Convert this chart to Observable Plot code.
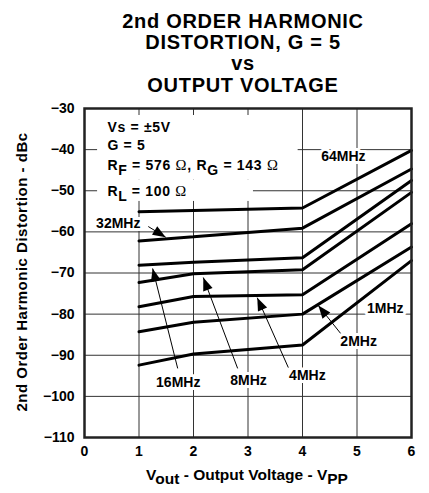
<!DOCTYPE html>
<html><head><meta charset="utf-8">
<script src="https://cdn.jsdelivr.net/npm/d3@7"></script>
<script src="https://cdn.jsdelivr.net/npm/@observablehq/plot@0.6"></script>
<style>
body{margin:0;background:#fff;}
#chart svg{font-family:"Liberation Sans",Arial,sans-serif;}
.title text{letter-spacing:0.7px;}
.conds text{letter-spacing:0.7px;}
.ylab text{letter-spacing:0.5px;}
</style>
</head><body><div id="chart"></div>
<script>
// ---- data ----
const voltages = [1, 2, 4, 6];
const seriesNames = ["64MHz", "32MHz", "16MHz", "8MHz", "4MHz", "2MHz", "1MHz"];
const hd64 = [-55.1, -54.8, -54.2, -40.2];
const hd32 = [-62.2, -61.2, -59.1, -44.7];
const hd16 = [-68.1, -67.4, -66.3, -47.5];
const hd8  = [-72.3, -70.2, -69.2, -50.4];
const hd4  = [-78.2, -75.7, -75.3, -58.0];
const hd2  = [-84.3, -82.0, -80.0, -63.7];
const hd1  = [-92.4, -89.7, -87.5, -67.0];
const xTicks = [0, 1, 2, 3, 4, 5, 6];
const yTicks = [-30, -40, -50, -60, -70, -80, -90, -100, -110];
const titleLines = ["2nd ORDER HARMONIC", "DISTORTION, G = 5", "vs", "OUTPUT VOLTAGE"];
const conditionLines = ["Vs = ±5V", "G = 5", "R_{F} = 576 Ω, R_{G} = 143 Ω", "R_{L} = 100 Ω"];
const xLabel = "V_{out} - Output Voltage - V_{PP}";
const yLabel = "2nd Order Harmonic Distortion - dBc";

// ---- build table ----
const seriesValues = [hd64, hd32, hd16, hd8, hd4, hd2, hd1];
const rows = [];
seriesNames.forEach((s, i) => voltages.forEach((v, j) => rows.push({series: s, v, db: seriesValues[i][j]})));

// ---- annotation placement (data coordinates) ----
const labelPos = [
  {t: "64MHz", x: 4.75, y: -41.7},
  {t: "32MHz", x: 0.62, y: -58.0},
  {t: "16MHz", x: 1.72, y: -96.6},
  {t: "8MHz",  x: 3.01, y: -96.1},
  {t: "4MHz",  x: 4.09, y: -94.9},
  {t: "2MHz",  x: 5.03, y: -86.7},
  {t: "1MHz",  x: 5.52, y: -78.6}
];
const arrowPos = [
  {x1: 1.17, y1: -58.7, x2: 1.49, y2: -61.3},
  {x1: 1.71, y1: -93.2, x2: 1.25, y2: -68.9},
  {x1: 2.81, y1: -93.2, x2: 2.18, y2: -71.1},
  {x1: 3.74, y1: -93.0, x2: 3.17, y2: -76.0},
  {x1: 4.70, y1: -84.7, x2: 4.29, y2: -77.9}
];
const condRowsY = [-34.6, -39.0, -43.9, -50.2];
const conds = conditionLines.map((t, i) => ({t, x: 0.42, y: condRowsY[i]}));

const W = 429, H = 493, mL = 84, mR = 18, mT = 108, mB = 56;
const sx = d3.scaleLinear([0, 6], [mL, W - mR]);
const sy = d3.scaleLinear([-110, -30], [H - mB, mT]);
const heads = arrowPos.map(a => {
  const dx = sx(a.x2) - sx(a.x1), dy = sy(a.y2) - sy(a.y1);
  return {x: a.x2, y: a.y2, rot: Math.atan2(dx, -dy) * 180 / Math.PI};
});

const plot = Plot.plot({
  width: W, height: H,
  marginLeft: mL, marginRight: mR, marginTop: mT, marginBottom: mB,
  x: {domain: [0, 6], ticks: xTicks},
  y: {domain: [-110, -30], ticks: yTicks},
  style: {fontFamily: "'Liberation Sans', Arial, sans-serif", background: "white", overflow: "visible"},
  marks: [
    Plot.gridX(xTicks.filter(d => d > 0 && d < 6), {stroke: "#333", strokeOpacity: 1, strokeWidth: 1}),
    Plot.gridY(yTicks.filter(d => d > -110 && d < -30), {stroke: "#333", strokeOpacity: 1, strokeWidth: 1}),
    Plot.rect([{x1: 0.24, x2: 3.92, y1: -31.7, y2: -47.4}, {x1: 0.24, x2: 3.1, y1: -47.4, y2: -52.6}],
      {x1: "x1", x2: "x2", y1: "y1", y2: "y2", fill: "white"}),
    Plot.line(rows, {x: "v", y: "db", z: "series", stroke: "black", strokeWidth: 3, strokeLinejoin: "miter"}),
    Plot.link(arrowPos, {x1: "x1", y1: "y1", x2: "x2", y2: "y2", stroke: "black", strokeWidth: 1}),
    Plot.vector(heads, {x: "x", y: "y", rotate: "rot", length: 13, r: 5, shape: "spike", anchor: "end", fill: "black", stroke: "none"}),
    Plot.text(labelPos, {x: "x", y: "y", text: "t", fontSize: 14, fontWeight: "bold", fill: "black", stroke: "white", strokeWidth: 6}),
    Plot.text(conds, {x: "x", y: "y", text: "t", textAnchor: "start", fontSize: 14, fontWeight: "bold", fill: "black", className: "subtext conds"}),
    Plot.frame({stroke: "#222", strokeWidth: 2.5}),
    Plot.axisX({ticks: xTicks, tickFormat: d3.format("d"), tickSize: 0, tickPadding: 9, fontSize: 14, fontWeight: "bold", label: null}),
    Plot.axisY({ticks: yTicks, tickFormat: d3.format("d"), tickSize: 0, tickPadding: 10, fontSize: 14, fontWeight: "bold", label: null}),
    Plot.text([titleLines.join("\n")], {frameAnchor: "top", dy: -96, dx: -5, lineAnchor: "top", lineHeight: 1.07, fontSize: 20, fontWeight: "bold", text: d => d, className: "title"}),
    Plot.text([xLabel], {frameAnchor: "bottom", dy: 42, dx: -1, fontSize: 15.5, fontWeight: "bold", text: d => d, className: "subtext"}),
    Plot.text([yLabel], {frameAnchor: "left", textAnchor: "middle", dx: -62, dy: -1, rotate: -90, fontSize: 15, fontWeight: "bold", text: d => d, className: "ylab"})
  ]
});

// subscripts and omega rendering
d3.select(plot).selectAll(".subtext text").each(function() {
  const s = this.textContent;
  const el = d3.select(this);
  el.text(null);
  const parts = s.split(/(_\{[^}]*\}|Ω)/).filter(p => p !== "");
  let shifted = false;
  for (const p of parts) {
    if (p.startsWith("_{")) {
      el.append("tspan").attr("dy", "0.32em").text(p.slice(2, -1));
      shifted = true;
    } else {
      const t = el.append("tspan");
      if (shifted) { t.attr("dy", "-0.32em"); shifted = false; }
      if (p === "Ω") t.attr("font-weight", "normal").attr("font-family", "'Liberation Serif', serif").attr("font-size", "1.05em");
      t.text(p);
    }
  }
});
document.getElementById("chart").append(plot);
</script>
</body></html>
